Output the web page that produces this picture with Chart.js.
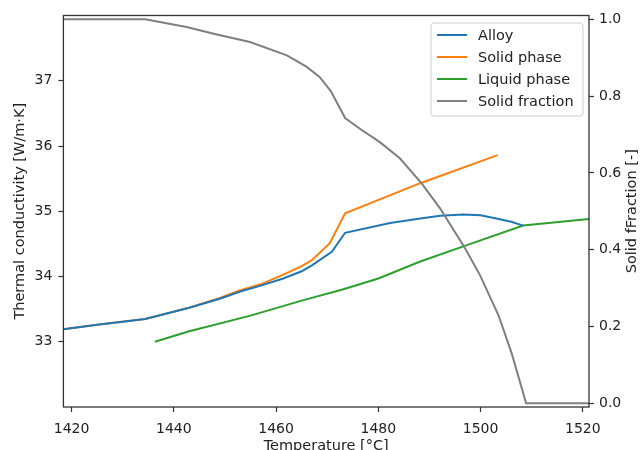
<!DOCTYPE html>
<html>
<head>
<meta charset="utf-8">
<script src="https://cdn.jsdelivr.net/npm/chart.js@4"></script>
<style>
  body { margin: 0; background: #fff; }
  canvas { display: block; }
</style>
</head>
<body>
<canvas id="chart" width="640" height="450"></canvas>
<script>
// Thermal conductivity (left axis) vs temperature
const tempAlloy = [1418.4, 1425, 1434.4, 1443, 1449, 1453, 1457, 1461.4, 1465, 1467, 1470.9, 1473.5, 1482.3, 1488.2, 1492.1, 1496.6, 1500, 1503.1, 1506, 1508.3];
const alloy = [33.19, 33.26, 33.35, 33.52, 33.66, 33.77, 33.86, 33.97, 34.08, 34.17, 34.38, 34.67, 34.82, 34.89, 34.93, 34.95, 34.94, 34.89, 34.84, 34.78];

const tempSolid = [1418.4, 1425, 1434.4, 1443, 1449, 1453, 1457, 1461.4, 1465, 1467, 1470.5, 1473.5, 1488.2, 1503.3];
const solidPhase = [33.19, 33.26, 33.35, 33.52, 33.67, 33.79, 33.88, 34.03, 34.16, 34.25, 34.51, 34.97, 35.43, 35.86];

const tempLiquid = [1436.3, 1443, 1455, 1465, 1473, 1480, 1488.2, 1496.9, 1508.3, 1521.2];
const liquidPhase = [33.0, 33.16, 33.40, 33.63, 33.80, 33.97, 34.23, 34.47, 34.78, 34.88];

// Solid fraction (right axis)
const tempFraction = [1418.4, 1434.4, 1442.5, 1448, 1454.9, 1462.1, 1466, 1468.5, 1470.7, 1473.5, 1476.6, 1480.3, 1484.2, 1488.5, 1492.1, 1496.9, 1499.9, 1503.5, 1506.1, 1508.9, 1521.2];
const solidFraction = [1.0, 1.0, 0.98, 0.962, 0.941, 0.906, 0.876, 0.85, 0.813, 0.743, 0.713, 0.68, 0.638, 0.572, 0.507, 0.405, 0.333, 0.229, 0.129, 0.0, 0.0];

// Tick labels
const xTicks = [1420, 1440, 1460, 1480, 1500, 1520];
const kTicks = [33, 34, 35, 36, 37];
const fracTicks = [0, 0.2, 0.4, 0.6, 0.8, 1.0];

const FONT = '"DejaVu Sans", sans-serif';
const TEXT = '#222';
const SPINE = '#333';

function points(xs, ys) {
  return xs.map((x, i) => ({ x: x, y: ys[i] }));
}

const tickStyle = { font: { family: FONT, size: 14 }, color: TEXT };
const gridStyle = { drawOnChartArea: false, tickLength: 5, color: SPINE, tickWidth: 1.2 };

// frame, axis titles and legend
const decorations = {
  id: 'decorations',
  afterDraw(chart) {
    const { ctx, chartArea: a } = chart;
    ctx.save();
    ctx.strokeStyle = SPINE;
    ctx.lineWidth = 1.3;
    ctx.strokeRect(a.left, a.top, a.right - a.left, a.bottom - a.top);

    ctx.fillStyle = TEXT;
    ctx.font = '14.5px ' + FONT;
    ctx.textAlign = 'center';
    ctx.textBaseline = 'middle';
    ctx.fillText('Temperature [°C]', (a.left + a.right) / 2, 446);

    const midY = (a.top + a.bottom) / 2;
    ctx.save();
    ctx.translate(20, midY);
    ctx.rotate(-Math.PI / 2);
    ctx.fillText('Thermal conductivity [W/m·K]', 0, 0);
    ctx.restore();
    ctx.save();
    ctx.translate(632, midY);
    ctx.rotate(-Math.PI / 2);
    ctx.fillText('Solid fFraction [-]', 0, 0);
    ctx.restore();

    // legend box
    const lx = 431, ly = 23, lw = 152, lh = 93;
    ctx.fillStyle = 'rgba(255,255,255,0.8)';
    ctx.strokeStyle = '#d0d0d0';
    ctx.lineWidth = 1;
    ctx.beginPath();
    ctx.roundRect(lx, ly, lw, lh, 3);
    ctx.fill();
    ctx.stroke();
    ctx.textAlign = 'left';
    chart.data.datasets.forEach((ds, i) => {
      const y = 35 + i * 22;
      ctx.strokeStyle = ds.borderColor;
      ctx.lineWidth = 2;
      ctx.beginPath();
      ctx.moveTo(437, y);
      ctx.lineTo(467, y);
      ctx.stroke();
      ctx.fillStyle = TEXT;
      ctx.fillText(ds.label, 478, y + 1);
    });
    ctx.restore();
  }
};

new Chart(document.getElementById('chart'), {
  type: 'line',
  data: {
    datasets: [
      { label: 'Alloy', data: points(tempAlloy, alloy), borderColor: '#1f77b4', yAxisID: 'y', order: 2 },
      { label: 'Solid phase', data: points(tempSolid, solidPhase), borderColor: '#ff7f0e', yAxisID: 'y', order: 2 },
      { label: 'Liquid phase', data: points(tempLiquid, liquidPhase), borderColor: '#2ca02c', yAxisID: 'y', order: 2 },
      { label: 'Solid fraction', data: points(tempFraction, solidFraction), borderColor: '#7f7f7f', yAxisID: 'y1', order: 1 }
    ]
  },
  options: {
    responsive: false,
    animation: false,
    layout: { padding: { top: 15.5, left: 0, right: 0, bottom: 0 } },
    elements: {
      point: { radius: 0 },
      line: { tension: 0, borderWidth: 2, fill: false }
    },
    plugins: { legend: { display: false }, tooltip: { enabled: false } },
    scales: {
      x: {
        type: 'linear',
        min: 1418.4,
        max: 1521.2,
        afterBuildTicks: s => { s.ticks = xTicks.map(v => ({ value: v })); },
        afterFit: s => { s.height = 43; },
        grid: gridStyle,
        border: { display: false },
        ticks: Object.assign({ padding: 9, maxRotation: 0, callback: v => String(v) }, tickStyle)
      },
      y: {
        position: 'left',
        min: 32,
        max: 38,
        afterBuildTicks: s => { s.ticks = kTicks.map(v => ({ value: v })); },
        afterFit: s => { s.width = 63.4; },
        grid: gridStyle,
        border: { display: false },
        ticks: Object.assign({ padding: 6 }, tickStyle)
      },
      y1: {
        position: 'right',
        min: -0.01,
        max: 1.01,
        afterBuildTicks: s => { s.ticks = fracTicks.map(v => ({ value: v })); },
        afterFit: s => { s.width = 51; },
        grid: gridStyle,
        border: { display: false },
        ticks: Object.assign({ padding: 5, callback: v => v.toFixed(1) }, tickStyle)
      }
    }
  },
  plugins: [decorations]
});
</script>
</body>
</html>
